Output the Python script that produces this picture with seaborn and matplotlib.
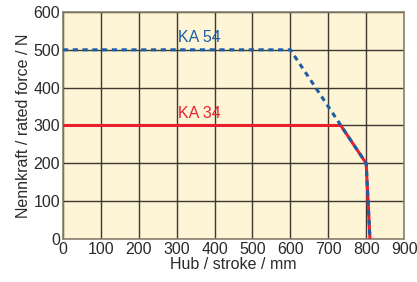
import matplotlib
matplotlib.use("Agg")
import matplotlib.pyplot as plt
import seaborn as sns
import pandas as pd

ka54_x = [0, 600, 800, 810]
ka54_y = [500, 500, 200, 0]
ka34_x = [0, 733, 800, 810]
ka34_y = [300, 300, 200, 0]
x_ticks = [0, 100, 200, 300, 400, 500, 600, 700, 800, 900]
y_ticks = [0, 100, 200, 300, 400, 500, 600]

sns.set_theme(style="white")
plt.rcParams['font.family'] = ['Liberation Sans', 'DejaVu Sans']

fig = plt.figure(figsize=(4.17, 2.82), dpi=100)
ax = fig.add_axes([0.151, 0.1525, 0.818, 0.805])
ax.set_facecolor('#fdf5d6')

df34 = pd.DataFrame({'x': ka34_x, 'y': ka34_y})
df54 = pd.DataFrame({'x': ka54_x, 'y': ka54_y})
sns.lineplot(data=df34, x='x', y='y', ax=ax, color='#e8202f', linewidth=2.2, sort=False, zorder=3)
sns.lineplot(data=df54, x='x', y='y', ax=ax, color='#1a5ea6', linewidth=2.2, sort=False,
             linestyle=(0, (1.7, 1.5)), zorder=4)

ax.set_xlim(0, 900)
ax.set_ylim(0, 600)
ax.set_xticks(x_ticks)
ax.set_yticks(y_ticks)
ax.grid(True, color='#3d3830', linewidth=1.0, zorder=1)
ax.set_axisbelow(True)
for s in ax.spines.values():
    s.set_color('#8a8070')
    s.set_linewidth(1.2)
ax.tick_params(axis='both', labelsize=11.5, colors='#2a2a2a', length=0, pad=2)
ax.set_xlabel('Hub / stroke / mm', fontsize=11.5, color='#2a2a2a', labelpad=0)
ax.set_ylabel('Nennkraft / rated force / N', fontsize=11.5, color='#2a2a2a', labelpad=2)

ax.text(303, 512, 'KA 54', color='#1a5ea6', fontsize=11.5, ha='left', va='bottom')
ax.text(303, 312, 'KA 34', color='#e8202f', fontsize=11.5, ha='left', va='bottom')

fig.savefig('out.png', dpi=100)
